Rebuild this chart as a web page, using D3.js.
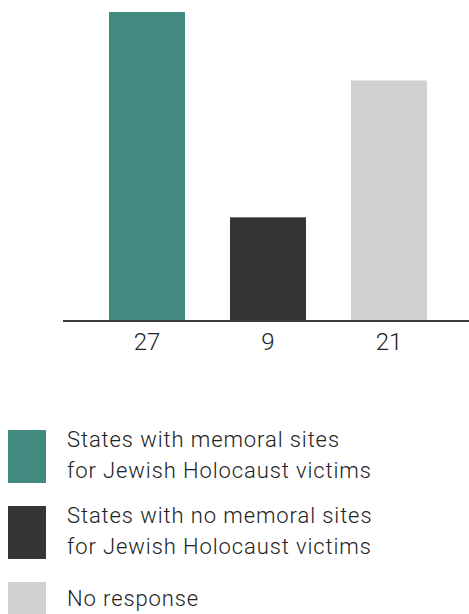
<!DOCTYPE html>
<html><head><meta charset="utf-8">
<script src="https://cdn.jsdelivr.net/npm/d3@7"></script>
<style>body{margin:0;background:#fff}svg{display:block}text{font-family:Roboto,"Noto Sans",sans-serif;font-weight:300}</style>
</head><body><svg id="c" width="469" height="614"></svg>
<script>
const categories = ["States with memoral sites\nfor Jewish Holocaust victims", "States with no memoral sites\nfor Jewish Holocaust victims", "No response"];
const values = [27, 9, 21];
const colors = ["#428a7f", "#363437", "#d0d1d3"];

const svg = d3.select("#c");
const baseY = 320;
const x = d3.scaleBand().domain(d3.range(values.length)).range([64, 472]).paddingInner(0.372).paddingOuter(0.372);
const y = d3.scaleLinear().domain([0, 27]).range([baseY, 12]);

svg.selectAll("rect.bar").data(values).join("rect").attr("class","bar")
  .attr("x",(d,i)=>x(i)).attr("width",x.bandwidth())
  .attr("y",d=>y(d)).attr("height",d=>baseY-y(d))
  .attr("fill",(d,i)=>colors[i]);

svg.append("line").attr("x1",63).attr("x2",469).attr("y1",baseY+1).attr("y2",baseY+1)
  .attr("stroke","#3a3a3a").attr("stroke-width",2);

svg.selectAll("text.val").data(values).join("text").attr("class","val")
  .attr("x",(d,i)=>x(i)+x.bandwidth()/2).attr("y",350)
  .attr("text-anchor","middle").attr("font-size",24).attr("fill","#222")
  .text(d=>d);

const legTops = [430, 506, 582];
const lg = svg.selectAll("g.leg").data(categories).join("g").attr("class","leg")
  .attr("transform",(d,i)=>`translate(0,${legTops[i]})`);
lg.append("rect").attr("x",8).attr("y",0).attr("width",38).attr("height",53).attr("fill",(d,i)=>colors[i]);
lg.each(function(d){
  const lines = d.split("\n");
  const t = d3.select(this).append("text").attr("font-size",22).attr("letter-spacing",0.9).attr("fill","#222");
  lines.forEach((l,j)=>t.append("tspan").attr("x",67).attr("y",lines.length>1?17+j*31:24).text(l));
});
</script></body></html>
